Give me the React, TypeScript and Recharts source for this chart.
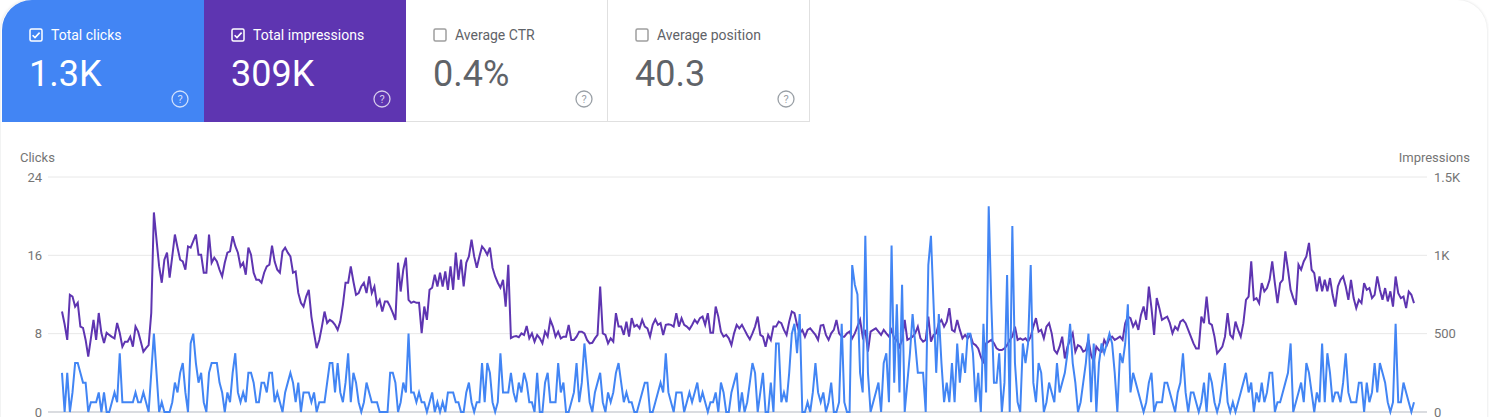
import { LineChart, Line, XAxis, YAxis, CartesianGrid, ReferenceLine } from 'recharts'

// daily clicks
const clicks = [
  4, 0, 4, 0, 2, 5, 5, 4, 3, 3, 0, 1, 1, 1, 2, 0, 2, 0, 0, 1, 2, 1, 6, 1, 1, 1, 1, 1, 2, 1,
  1, 2, 1, 0, 4, 8, 4, 0, 1, 0, 0, 0, 1, 3, 2, 4, 5, 2, 0, 7, 8, 5, 3, 4, 1, 0, 4, 5, 5, 5,
  3, 2, 0, 2, 1, 4, 6, 2, 1, 2, 1, 4, 4, 3, 1,
  1, 3, 3, 2, 4, 4, 1, 2, 1, 0, 2, 3, 4, 3, 1, 3, 0, 2, 2, 2, 1, 2, 0, 1, 1, 1, 3, 5, 5, 2,
  5, 2, 1, 3, 6, 1, 4, 3, 1, 0, 1, 3, 2, 1, 1, 1, 0, 0, 0, 0, 4, 4, 3, 0, 1, 3, 2, 8, 2, 2,
  1, 2, 1, 1, 0, 1, 2, 0, 1, 0, 1, 0, 2, 2, 2, 1, 1, 0, 0, 2, 3, 1, 0, 1, 1, 5, 1, 5, 4, 1,
  0, 1, 6, 2, 2, 2, 4,
  2, 1, 3, 2, 4, 3, 1, 1, 0, 4, 0, 0, 3, 4, 1, 1, 1, 5, 2, 3, 0, 0, 1, 2, 5, 1, 3, 7, 4, 1,
  0, 2, 3, 4, 1, 0, 2, 1, 2, 4, 5, 3, 1, 2, 1, 1, 0, 0, 1, 2, 3, 3, 0, 0, 1, 2, 3, 2, 6, 2,
  1, 0, 2, 2,
  2, 0, 1, 2, 1, 2, 3, 1, 2, 1, 0, 1, 1, 2, 0, 3, 2, 0, 0, 2, 3, 4, 0, 2, 0, 1, 3, 5, 4, 0,
  2, 4, 0, 0, 3, 0, 7, 7, 1, 2, 1, 4, 8, 9, 6, 10, 0, 0, 1, 0, 2, 5, 2, 1, 2, 0, 1, 3, 0, 0,
  1, 9, 1, 0, 0, 15, 13, 12,
  4, 2, 18, 4, 0, 1, 2, 3, 0, 5, 6, 1, 17, 3, 11, 2, 13, 0, 3, 6, 10, 7, 4, 4, 4, 0, 15, 18, 11, 4,
  10, 5, 1, 3, 1, 5, 1, 7, 3, 6, 4, 8, 8, 6, 1, 4, 0, 9, 2, 21, 11, 3, 3, 6, 0, 3, 14, 0, 19, 5,
  1, 0, 7, 5, 7, 15, 3, 1, 5,
  4, 0, 1, 3, 2, 1, 5, 2, 3, 4, 6, 9, 5, 3, 0, 1, 3, 5, 8, 1, 7, 0, 5, 7, 6, 7, 8, 7, 4, 0,
  6, 5, 7, 11, 2, 4, 3, 2, 1, 0, 1, 3, 4, 0, 1, 1, 1, 3, 3, 2, 1, 0, 2, 3, 6, 2, 0, 2, 2, 1,
  0, 1, 3, 0, 4, 3, 1, 0, 1,
  3, 5, 1, 0, 1, 0, 1, 2, 3, 4, 2, 3, 0, 2, 1, 3, 1, 2, 4, 4, 0, 1, 1, 2, 3, 4, 7, 0, 1, 2,
  3, 1, 5, 4, 2, 0, 2, 1, 7, 1, 6, 4, 1, 2, 2, 1, 3, 6, 2, 1, 1, 1, 3, 3, 0, 3, 1, 2, 5, 2,
  5, 4, 3, 1, 0, 1, 9, 1, 1, 3, 2, 1, 0, 1,
]

// daily impressions
const impressions = [
  641, 560, 460, 748, 737, 673, 697, 545, 537, 460, 353, 470, 588, 460, 632, 504, 440, 506, 492, 480,
  470, 568, 504, 417, 449, 449, 481, 417, 545, 513, 450, 385, 408, 427, 632, 1274, 1100, 929, 825, 972,
  1017, 857, 993, 1133, 1050, 972, 961, 908, 1057, 1049, 1090, 1133, 1004, 1004, 889, 889, 1133, 953, 985, 961,
  908, 865, 953, 1017, 1025, 1122, 1060, 1017, 929, 953, 876, 1049, 1004, 889, 844,
  844, 825, 889, 929, 940, 1062, 960, 908, 889, 1025, 1049, 1017, 993, 889, 897, 760, 697, 673, 737, 780,
  609, 504, 408, 460, 545, 641, 568, 588, 577, 556, 524, 577, 684, 825, 825, 929, 833, 748, 759, 801,
  825, 759, 865, 759, 801, 684, 716, 641, 705, 705, 673, 632, 588, 953, 769, 908, 985, 716, 697, 705,
  697, 697, 504, 673, 588, 780, 793, 876, 801, 889, 801, 897, 780, 929, 780, 1017, 844, 972, 801, 953,
  993, 1100, 993, 921, 993, 1057, 1036, 1004, 1049, 921, 865, 825, 793, 844, 673, 940, 472,
  481, 485, 477, 502, 492, 549, 470, 502, 449, 492, 470, 438, 513, 481, 588, 545, 481, 513, 470, 481,
  481, 556, 460, 460, 481, 513, 513, 502, 460, 438, 442, 470, 492, 801, 502, 492, 438, 470, 449, 631,
  545, 545, 492, 577, 481, 599, 545, 556, 534, 588, 545, 534, 481, 556, 592, 556, 567, 492, 556, 560,
  556, 545, 631, 545,
  599, 556, 545, 528, 556, 588, 567, 599, 609, 556, 631, 506, 506, 673, 609, 513, 481, 492, 470, 427,
  502, 556, 534, 556, 524, 492, 464, 502, 545, 609, 492, 481, 417, 492, 460, 545, 545, 577, 567, 524,
  492, 577, 641, 631, 556, 502, 524, 481, 524, 534, 513, 492, 460, 552, 556, 492, 460, 502, 524, 588,
  502, 481, 481, 502, 513, 470, 502, 545,
  588, 481, 524, 385, 513, 524, 534, 513, 492, 524, 502, 481, 524, 470, 460, 417, 460, 588, 460, 470,
  481, 502, 545, 470, 449, 460, 609, 449, 492, 502, 567, 588, 545, 577, 663, 524, 513, 588, 524, 470,
  492, 470, 492, 438, 427, 406, 353, 310, 438, 449, 460, 438, 406, 395, 395, 406, 427, 460, 481, 545,
  460, 470, 460, 470, 449, 481, 545, 599, 513,
  524, 470, 545, 567, 502, 395, 374, 417, 481, 342, 417, 460, 502, 385, 427, 417, 385, 395, 460, 363,
  321, 417, 395, 385, 460, 427, 470, 481, 460, 470, 481, 460, 567, 609, 599, 545, 577, 524, 620, 673,
  588, 801, 663, 492, 727, 663, 588, 599, 609, 567, 502, 545, 524, 577, 588, 567, 524, 481, 438, 406,
  406, 609, 567, 737, 567, 556, 481, 374, 395,
  417, 481, 631, 492, 470, 577, 524, 481, 567, 716, 737, 961, 716, 727, 695, 823, 770, 791, 844, 961,
  823, 695, 823, 844, 1025, 908, 780, 727, 684, 940, 908, 961, 993, 1079, 908, 887, 770, 865, 770, 844,
  770, 855, 748, 673, 801, 844, 865, 801, 716, 844, 727, 663, 716, 695, 823, 780, 791, 727, 748, 865,
  780, 716, 791, 706, 770, 673, 865, 759, 727, 737, 663, 769, 748, 695,
]

const clickTicks = [0, 8, 16, 24]
const impressionTicks = [0, 500, 1000, 1500]

const metricTitles = ['Total clicks', 'Total impressions', 'Average CTR', 'Average position']
const metricValues = ['1.3K', '309K', '0.4%', '40.3']
const metricSelected = [true, true, false, false]
const metricColors = ['#4285f4', '#5e35b1', '#ffffff', '#ffffff']

const FONT = 'Roboto, "Noto Sans", sans-serif'
const BLUE = '#4285f4'
const PURPLE = '#5e35b1'

const data = clicks.map((c, i) => ({ day: i, clicks: c, impressions: impressions[i] }))

const fmtImpressions = (v: number) => (v >= 1000 ? `${v / 1000}K` : `${v}`)

function Checkbox({ checked, color }: { checked: boolean; color: string }) {
  return (
    <svg width={14} height={14} viewBox="0 0 14 14" style={{ display: 'block' }}>
      <rect x={1} y={1} width={12} height={12} rx={1.5} fill="none" stroke={color} strokeWidth={1.5} />
      {checked && (
        <path d="M3.6 7.2 L6 9.6 L10.6 4.6" fill="none" stroke={color} strokeWidth={1.6} />
      )}
    </svg>
  )
}

function HelpIcon({ color }: { color: string }) {
  return (
    <svg width={20} height={20} viewBox="0 0 20 20" style={{ display: 'block' }}>
      <circle cx={10} cy={10} r={8} fill="none" stroke={color} strokeWidth={1.3} />
      <text x={10} y={14} textAnchor="middle" fontSize={11} fontFamily={FONT} fill={color}>
        ?
      </text>
    </svg>
  )
}

function MetricCard({ index }: { index: number }) {
  const selected = metricSelected[index]
  const fg = selected ? '#ffffff' : '#5f6368'
  return (
    <div
      style={{
        position: 'absolute',
        left: 2 + index * 202,
        top: 0,
        width: 202,
        height: 122,
        boxSizing: 'border-box',
        background: metricColors[index],
        borderTopLeftRadius: index === 0 ? 30 : 0,
        borderRight: selected ? 'none' : '1px solid #e0e0e0',
        borderBottom: selected ? 'none' : '1px solid #e0e0e0',
        fontFamily: FONT,
      }}
    >
      <div style={{ position: 'absolute', left: 27, top: 28 }}>
        <Checkbox checked={selected} color={selected ? '#ffffff' : '#9e9e9e'} />
      </div>
      <div style={{ position: 'absolute', left: 49, top: 26, fontSize: 14, lineHeight: '18px', color: fg }}>
        {metricTitles[index]}
      </div>
      <div
        style={{
          position: 'absolute',
          left: 27,
          top: 54,
          fontSize: 36,
          lineHeight: '40px',
          color: fg,
          fontWeight: 400,
        }}
      >
        {metricValues[index]}
      </div>
      <div style={{ position: 'absolute', left: 168, top: 89 }}>
        <HelpIcon color={selected ? 'rgba(255,255,255,0.75)' : '#9aa0a6'} />
      </div>
    </div>
  )
}

export default function App() {
  const tick = { fill: '#757575', fontSize: 13, fontFamily: FONT }
  return (
    <div
      style={{
        position: 'fixed',
        left: 0,
        top: 0,
        width: 1489,
        height: 417,
        overflow: 'hidden',
        background: '#ffffff',
        fontFamily: FONT,
      }}
    >
      <div
        style={{
          position: 'absolute',
          left: 1,
          top: 0,
          width: 1486,
          height: 460,
          borderTopLeftRadius: 30,
          borderTopRightRadius: 30,
          boxShadow: '0 0 3px rgba(60,64,67,0.18)',
          background: '#ffffff',
        }}
      />
      {metricTitles.map((_, i) => (
        <MetricCard key={i} index={i} />
      ))}
      <div style={{ position: 'absolute', left: 20, top: 150, fontSize: 13, lineHeight: '16px', color: '#757575' }}>
        Clicks
      </div>
      <div
        style={{ position: 'absolute', right: 19, top: 150, fontSize: 13, lineHeight: '16px', color: '#757575' }}
      >
        Impressions
      </div>
      <div style={{ position: 'absolute', left: 0, top: 0 }}>
        <LineChart width={1489} height={460} data={data} margin={{ top: 177, right: 0, bottom: 48, left: 0 }}>
          <CartesianGrid yAxisId="left" vertical={false} stroke="#e8e8e8" strokeWidth={1} />
          <XAxis
            dataKey="day"
            type="number"
            domain={['dataMin', 'dataMax']}
            hide
            padding={{ left: 14, right: 13 }}
          />
          <YAxis
            yAxisId="left"
            orientation="left"
            width={48}
            domain={[0, 24]}
            ticks={clickTicks}
            axisLine={false}
            tickLine={false}
            tickSize={0}
            tickMargin={6}
            tick={tick}
            interval={0}
          />
          <YAxis
            yAxisId="right"
            orientation="right"
            width={62}
            domain={[0, 1500]}
            ticks={impressionTicks}
            tickFormatter={fmtImpressions}
            axisLine={false}
            tickLine={false}
            tickSize={0}
            tickMargin={7}
            tick={tick}
            interval={0}
          />
          <ReferenceLine yAxisId="left" y={0} stroke="#dadce0" strokeWidth={2} />
          <Line
            yAxisId="right"
            dataKey="impressions"
            type="linear"
            stroke={PURPLE}
            strokeWidth={2}
            dot={false}
            activeDot={false}
            isAnimationActive={false}
          />
          <Line
            yAxisId="left"
            dataKey="clicks"
            type="linear"
            stroke={BLUE}
            strokeWidth={2}
            dot={false}
            activeDot={false}
            isAnimationActive={false}
          />
        </LineChart>
      </div>
    </div>
  )
}
